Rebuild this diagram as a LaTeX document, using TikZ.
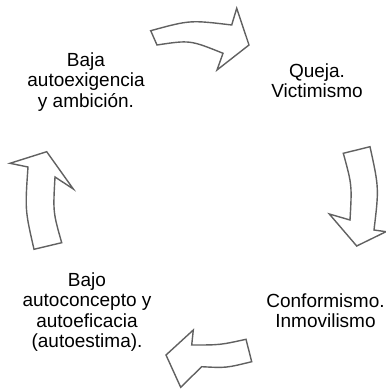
\documentclass[tikz,border=0pt]{standalone}
\usepackage{fontspec}
\setmainfont{Liberation Sans}
\begin{document}
\begin{tikzpicture}[x=1pt,y=-1pt,
  lbl/.style={align=center,inner sep=0pt,font=\fontsize{19}{20.5}\selectfont},
  arr/.style={draw=black!62,line width=1.4pt,fill=white,line join=miter}]
\useasboundingbox (0,0) rectangle (385,390);
% top arrow
\draw[arr] (150.7,30.7) .. controls (190,20) .. (231.7,25) -- (236.7,8.3) -- (249,45) -- (217,70) -- (223,53.3) .. controls (190,40) .. (157,45) -- cycle;
% right arrow
\draw[arr] (343.3,153.3) -- (370,146.7) .. controls (379,188) .. (374,230) -- (386,231.7) -- (356.7,246) -- (329.3,214) -- (350,220) .. controls (352,185) .. cycle;
% bottom arrow
\draw[arr] (166,355) -- (193.3,330) -- (191.7,345) .. controls (220,345) .. (246,339.3) -- (251.7,361.7) .. controls (226,368) .. (201.7,366.7) -- (180.7,387.3) -- cycle;
% left arrow
\draw[arr] (46.7,151.7) -- (73.3,189) -- (55,177) .. controls (53,212) .. (61.7,242.7) -- (34,249.3) .. controls (25,210) .. (28,167) -- (10,163.3) -- cycle;
% labels
\node[lbl] (a) at (86,82) {Baja\\autoexigencia\\y ambición.};
\node[lbl] (b) at (317,80.5) {Queja.\\Victimismo};
\node[lbl] (c) at (325.5,310.5) {Conformismo.\\Inmovilismo};
\node[lbl] (d) at (87,312) {Bajo\\autoconcepto y\\autoeficacia\\(autoestima).};
\end{tikzpicture}
\end{document}
